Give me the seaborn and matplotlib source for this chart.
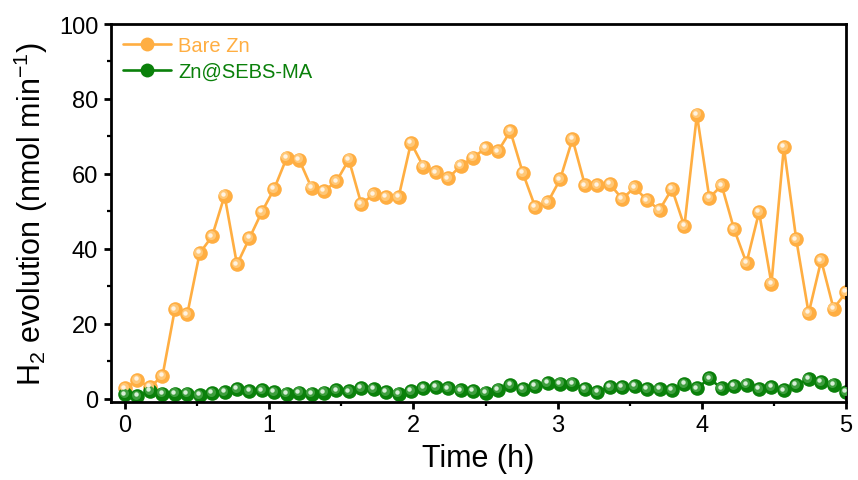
import numpy as np
import pandas as pd
import matplotlib
matplotlib.use("Agg")
import matplotlib.pyplot as plt
import matplotlib.transforms as mtransforms
from matplotlib.ticker import MultipleLocator
from matplotlib.lines import Line2D
import seaborn as sns

# ---- data ----
time_h = [0.000, 0.086, 0.172, 0.259, 0.345, 0.431, 0.517, 0.603, 0.690, 0.776,
          0.862, 0.948, 1.034, 1.121, 1.207, 1.293, 1.379, 1.466, 1.552, 1.638,
          1.724, 1.810, 1.897, 1.983, 2.069, 2.155, 2.241, 2.328, 2.414, 2.500,
          2.586, 2.672, 2.759, 2.845, 2.931, 3.017, 3.103, 3.190, 3.276, 3.362,
          3.448, 3.534, 3.621, 3.707, 3.793, 3.879, 3.966, 4.052, 4.138, 4.224,
          4.310, 4.397, 4.483, 4.569, 4.655, 4.741, 4.828, 4.914, 5.000]

bare_zn = [2.7, 4.9, 3.1, 6.0, 23.8, 22.5, 38.8, 43.3, 54.2, 35.8,
           42.8, 49.8, 56.0, 64.3, 63.8, 56.3, 55.4, 58.0, 63.8, 52.0,
           54.5, 53.8, 53.8, 68.3, 61.9, 60.4, 58.8, 62.2, 64.3, 66.9,
           66.0, 71.4, 60.2, 51.1, 52.4, 58.5, 69.3, 56.9, 56.9, 57.3,
           53.3, 56.4, 52.9, 50.4, 56.0, 46.0, 75.8, 53.6, 56.9, 45.2,
           36.2, 49.8, 30.7, 67.1, 42.5, 22.8, 36.9, 24.0, 28.4]

zn_sebs = [1.1, 0.7, 2.0, 1.3, 1.3, 1.3, 0.9, 1.5, 1.8, 2.5,
           2.0, 2.2, 1.8, 1.3, 1.6, 1.3, 1.6, 2.2, 1.9, 2.8,
           2.5, 1.8, 1.3, 2.0, 2.8, 3.1, 2.7, 2.2, 2.0, 1.6,
           2.4, 3.6, 2.5, 3.4, 4.2, 4.0, 4.0, 2.6, 1.8, 3.1,
           3.1, 3.4, 2.5, 2.5, 2.3, 3.9, 2.7, 5.4, 2.7, 3.4,
           3.7, 2.5, 3.1, 2.2, 3.6, 5.2, 4.4, 3.7, 1.8]

series_names = ["Bare Zn", "Zn@SEBS-MA"]
x_ticks = [0, 1, 2, 3, 4, 5]
y_ticks = [0, 20, 40, 60, 80, 100]

# ---- style ----
sns.set_style("ticks")
plt.rcParams["font.family"] = ["Liberation Sans", "DejaVu Sans"]
plt.rcParams["mathtext.default"] = "regular"
for k in ["text.color", "axes.labelcolor", "xtick.color", "ytick.color", "axes.edgecolor"]:
    plt.rcParams[k] = "black"

colors = {"Bare Zn": "#FFAE42", "Zn@SEBS-MA": "#0A800A"}
halo = {"Bare Zn": "#FFC878", "Zn@SEBS-MA": "#3E9E3E"}
highlight = {"Bare Zn": "#FFF3E2", "Zn@SEBS-MA": "#D8EFD8"}

df = pd.concat([
    pd.DataFrame({"Time": time_h, "H2": bare_zn, "Sample": series_names[0]}),
    pd.DataFrame({"Time": time_h, "H2": zn_sebs, "Sample": series_names[1]}),
])

fig = plt.figure(figsize=(8.58, 4.81), dpi=100)
ax = fig.add_axes([0.129, 0.163, 0.857, 0.785])

sns.lineplot(data=df, x="Time", y="H2", hue="Sample", palette=colors,
             marker="o", markersize=10.5, markeredgewidth=0, linewidth=1.9,
             ax=ax, legend=False)

# glossy highlight on markers (soft halo + bright spot)
halo_trans = mtransforms.offset_copy(ax.transData, fig=fig, x=-0.9, y=0.9, units="points")
hl_trans = mtransforms.offset_copy(ax.transData, fig=fig, x=-1.3, y=1.3, units="points")
for name, vals in zip(series_names, [bare_zn, zn_sebs]):
    ax.plot(time_h, vals, linestyle="none", marker="o", markersize=6.5,
            markeredgewidth=0, color=halo[name], transform=halo_trans, zorder=5)
    ax.plot(time_h, vals, linestyle="none", marker="o", markersize=3.2,
            markeredgewidth=0, color=highlight[name], transform=hl_trans, zorder=6)

ax.set_xlim(-0.1, 5.0)
ax.set_ylim(-0.8, 100)
ax.set_xticks(x_ticks)
ax.set_yticks(y_ticks)
ax.xaxis.set_minor_locator(MultipleLocator(0.5))
ax.yaxis.set_minor_locator(MultipleLocator(10))
ax.tick_params(which="major", direction="out", length=5, width=2, labelsize=17, pad=4)
ax.tick_params(which="minor", direction="out", length=3, width=1.6)
for s in ax.spines.values():
    s.set_linewidth(2)
    s.set_visible(True)

ax.set_xlabel("Time (h)", fontsize=22, labelpad=5)
ax.set_ylabel("H$_2$ evolution (nmol min$^{-1}$)", fontsize=22, labelpad=6)

handles = []
for name in series_names:
    handles.append(Line2D([0], [0], color=colors[name], linewidth=1.9, marker="o",
                          markersize=10, markeredgewidth=0))
leg = ax.legend(handles, series_names, loc="upper left", frameon=False,
                fontsize=14.5, handlelength=2.4, handletextpad=0.35,
                labelspacing=0.35, borderaxespad=0.2)
for t, name in zip(leg.get_texts(), series_names):
    t.set_color(colors[name])

fig.savefig("out.png", dpi=100)
